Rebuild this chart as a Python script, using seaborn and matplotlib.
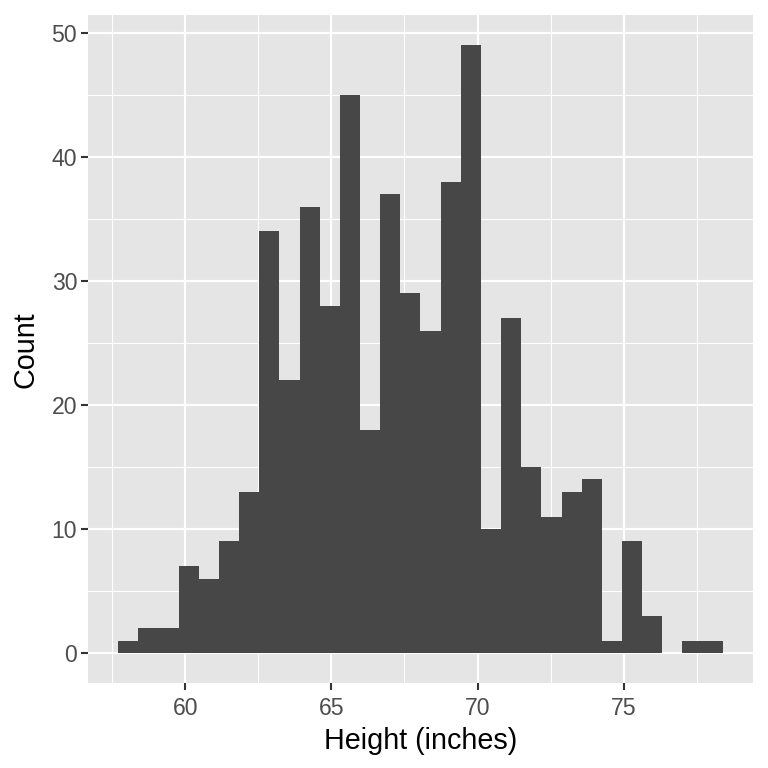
import matplotlib
matplotlib.use("Agg")
import matplotlib.pyplot as plt
import seaborn as sns
import numpy as np
import pandas as pd

counts = [1, 2, 2, 7, 6, 9, 13, 34, 22, 36, 28, 45, 18, 37, 29, 26, 38, 49,
          10, 27, 15, 11, 13, 14, 1, 9, 3, 0, 1, 1]
bin_start = 57.705
bin_width = 0.6895
x_ticks = [60, 65, 70, 75]
y_ticks = [0, 10, 20, 30, 40, 50]

n_bins = len(counts)
bin_end = bin_start + bin_width * n_bins
centers = bin_start + bin_width * (np.arange(n_bins) + 0.5)
df = pd.DataFrame({"height": centers, "count": counts})

sns.set_theme(style="darkgrid")
plt.rcParams['font.family'] = ['Liberation Sans', 'DejaVu Sans']

fig = plt.figure(figsize=(7.68, 7.68), dpi=100)
ax = fig.add_axes([88/768, (768-683.4)/768, 665/768, 668.4/768])
ax.set_facecolor("#E5E5E5")

sns.histplot(data=df, x="height", weights="count", bins=n_bins,
             binrange=(bin_start, bin_end), ax=ax,
             color="#474747", alpha=1, edgecolor="none", linewidth=0)

xr = bin_end - bin_start
ax.set_xlim(bin_start - 0.05 * xr, bin_end + 0.05 * xr)
ax.set_ylim(-0.05 * 49, 49 * 1.05)
ax.set_xticks(x_ticks)
ax.set_yticks(y_ticks)
ax.set_xticks([57.5, 62.5, 67.5, 72.5, 77.5], minor=True)
ax.set_yticks([5, 15, 25, 35, 45], minor=True)
ax.grid(which="major", color="white", linewidth=1.6)
ax.grid(which="minor", color="white", linewidth=0.8)
ax.set_axisbelow(True)
for s in ax.spines.values():
    s.set_visible(False)
ax.tick_params(axis="both", which="major", length=4.8, width=1.5, color="#333333",
               labelsize=16.6, labelcolor="#4D4D4D", pad=3, direction="out",
               bottom=True, left=True)
ax.tick_params(axis="x", which="major", pad=5)
ax.tick_params(axis="both", which="minor", length=0)
ax.set_xlabel("Height (inches)", fontsize=20.7, color="black", labelpad=5)
ax.set_ylabel("Count", fontsize=20.7, color="black", labelpad=9)

fig.savefig("out.png", dpi=100)
